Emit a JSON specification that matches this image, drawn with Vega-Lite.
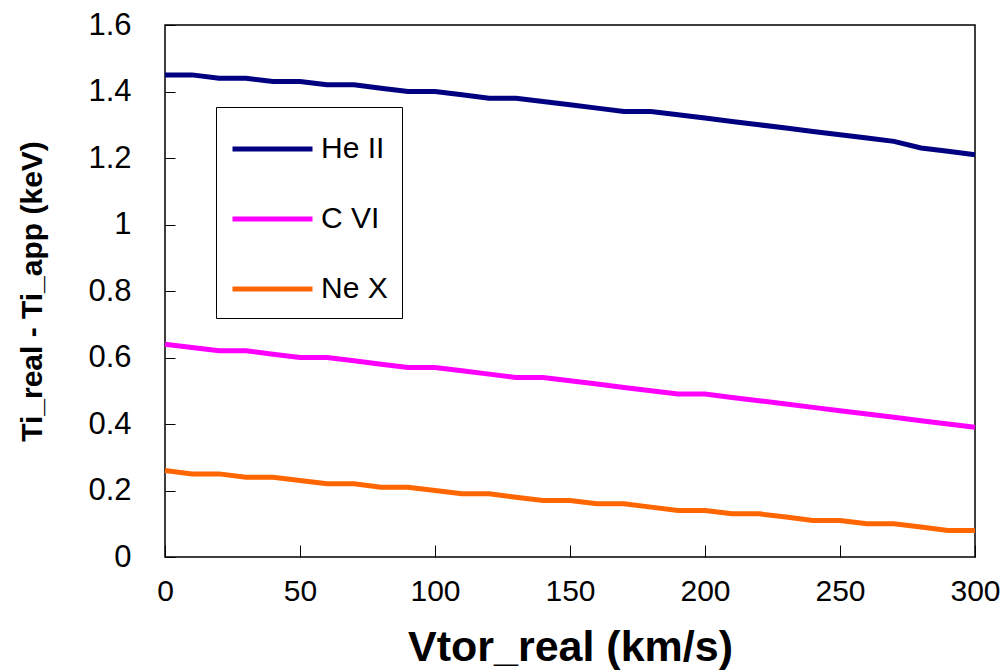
{
  "$schema": "https://vega.github.io/schema/vega-lite/v6.json",
  "autosize": "none",
  "padding": {"left": 165, "top": 25, "right": 32, "bottom": 115},
  "width": 810,
  "height": 532,
  "config": {
    "font": "Liberation Sans",
    "view": {"stroke": "#000000", "strokeWidth": 1.5},
    "axis": {"grid": false, "domain": false, "tickColor": "#000000", "labelColor": "#000000", "titleColor": "#000000"}
  },
  "data": {"values": [
    {"v":0,"s":"He II","y":1.45},{"v":10,"s":"He II","y":1.45},{"v":20,"s":"He II","y":1.44},{"v":30,"s":"He II","y":1.44},{"v":40,"s":"He II","y":1.43},{"v":50,"s":"He II","y":1.43},{"v":60,"s":"He II","y":1.42},{"v":70,"s":"He II","y":1.42},{"v":80,"s":"He II","y":1.41},{"v":90,"s":"He II","y":1.40},{"v":100,"s":"He II","y":1.40},{"v":110,"s":"He II","y":1.39},{"v":120,"s":"He II","y":1.38},{"v":130,"s":"He II","y":1.38},{"v":140,"s":"He II","y":1.37},{"v":150,"s":"He II","y":1.36},{"v":160,"s":"He II","y":1.35},{"v":170,"s":"He II","y":1.34},{"v":180,"s":"He II","y":1.34},{"v":190,"s":"He II","y":1.33},{"v":200,"s":"He II","y":1.32},{"v":210,"s":"He II","y":1.31},{"v":220,"s":"He II","y":1.30},{"v":230,"s":"He II","y":1.29},{"v":240,"s":"He II","y":1.28},{"v":250,"s":"He II","y":1.27},{"v":260,"s":"He II","y":1.26},{"v":270,"s":"He II","y":1.25},{"v":280,"s":"He II","y":1.23},{"v":290,"s":"He II","y":1.22},{"v":300,"s":"He II","y":1.21},
    {"v":0,"s":"C VI","y":0.64},{"v":10,"s":"C VI","y":0.63},{"v":20,"s":"C VI","y":0.62},{"v":30,"s":"C VI","y":0.62},{"v":40,"s":"C VI","y":0.61},{"v":50,"s":"C VI","y":0.60},{"v":60,"s":"C VI","y":0.60},{"v":70,"s":"C VI","y":0.59},{"v":80,"s":"C VI","y":0.58},{"v":90,"s":"C VI","y":0.57},{"v":100,"s":"C VI","y":0.57},{"v":110,"s":"C VI","y":0.56},{"v":120,"s":"C VI","y":0.55},{"v":130,"s":"C VI","y":0.54},{"v":140,"s":"C VI","y":0.54},{"v":150,"s":"C VI","y":0.53},{"v":160,"s":"C VI","y":0.52},{"v":170,"s":"C VI","y":0.51},{"v":180,"s":"C VI","y":0.50},{"v":190,"s":"C VI","y":0.49},{"v":200,"s":"C VI","y":0.49},{"v":210,"s":"C VI","y":0.48},{"v":220,"s":"C VI","y":0.47},{"v":230,"s":"C VI","y":0.46},{"v":240,"s":"C VI","y":0.45},{"v":250,"s":"C VI","y":0.44},{"v":260,"s":"C VI","y":0.43},{"v":270,"s":"C VI","y":0.42},{"v":280,"s":"C VI","y":0.41},{"v":290,"s":"C VI","y":0.40},{"v":300,"s":"C VI","y":0.39},
    {"v":0,"s":"Ne X","y":0.26},{"v":10,"s":"Ne X","y":0.25},{"v":20,"s":"Ne X","y":0.25},{"v":30,"s":"Ne X","y":0.24},{"v":40,"s":"Ne X","y":0.24},{"v":50,"s":"Ne X","y":0.23},{"v":60,"s":"Ne X","y":0.22},{"v":70,"s":"Ne X","y":0.22},{"v":80,"s":"Ne X","y":0.21},{"v":90,"s":"Ne X","y":0.21},{"v":100,"s":"Ne X","y":0.20},{"v":110,"s":"Ne X","y":0.19},{"v":120,"s":"Ne X","y":0.19},{"v":130,"s":"Ne X","y":0.18},{"v":140,"s":"Ne X","y":0.17},{"v":150,"s":"Ne X","y":0.17},{"v":160,"s":"Ne X","y":0.16},{"v":170,"s":"Ne X","y":0.16},{"v":180,"s":"Ne X","y":0.15},{"v":190,"s":"Ne X","y":0.14},{"v":200,"s":"Ne X","y":0.14},{"v":210,"s":"Ne X","y":0.13},{"v":220,"s":"Ne X","y":0.13},{"v":230,"s":"Ne X","y":0.12},{"v":240,"s":"Ne X","y":0.11},{"v":250,"s":"Ne X","y":0.11},{"v":260,"s":"Ne X","y":0.10},{"v":270,"s":"Ne X","y":0.10},{"v":280,"s":"Ne X","y":0.09},{"v":290,"s":"Ne X","y":0.08},{"v":300,"s":"Ne X","y":0.08}
  ]},
  "mark": {"type": "line", "strokeWidth": 5},
  "encoding": {
    "x": {
      "field": "v", "type": "quantitative",
      "scale": {"domain": [0, 300], "nice": false, "zero": false},
      "axis": {"values": [0,50,100,150,200,250,300], "tickSize": -12, "labelPadding": 31, "labelFontSize": 30, "labelFlush": false,
        "title": "Vtor_real (km/s)", "titleFontSize": 43, "titleFontWeight": "bold", "titlePadding": 20}
    },
    "y": {
      "field": "y", "type": "quantitative",
      "scale": {"domain": [0, 1.6], "nice": false},
      "axis": {"values": [0,0.2,0.4,0.6,0.8,1,1.2,1.4,1.6], "format": "~g", "tickSize": -10, "labelPadding": 44, "labelFontSize": 31, "labelFlush": false,
        "title": "Ti_real - Ti_app (keV)", "titleFontSize": 30, "titleFontWeight": "bold", "titlePadding": 40}
    },
    "color": {
      "field": "s", "type": "nominal",
      "scale": {"domain": ["He II", "C VI", "Ne X"], "range": ["#000080", "#FF00FF", "#FF6600"]},
      "legend": {
        "orient": "none", "legendX": 51, "legendY": 82, "title": " ", "titleFontSize": 6, "titlePadding": 7,
        "symbolType": "stroke", "symbolSize": 6400, "symbolStrokeWidth": 5, "clipHeight": 30,
        "labelFontSize": 30, "labelColor": "#000000", "labelOffset": 6, "rowPadding": 40,
        "strokeColor": "#000000", "padding": 14, "fillColor": "#ffffff"
      }
    }
  }
}
